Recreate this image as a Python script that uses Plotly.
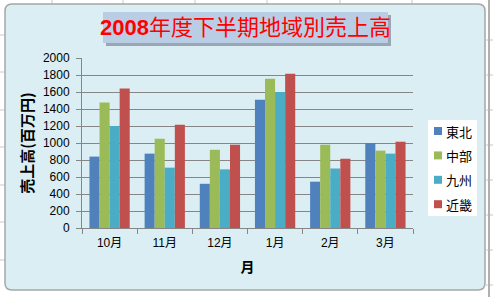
import plotly.graph_objects as go

months = ["10月", "11月", "12月", "1月", "2月", "3月"]
regions = ["東北", "中部", "九州", "近畿"]
tohoku = [840, 875, 520, 1510, 545, 1000]
chubu = [1475, 1050, 920, 1755, 980, 910]
kyushu = [1200, 710, 690, 1600, 700, 875]
kinki = [1640, 1215, 980, 1815, 815, 1015]
series = [tohoku, chubu, kyushu, kinki]
colors = ["#4F81BD", "#9BBB59", "#4BACC6", "#C0504D"]
y_ticks = list(range(0, 2001, 200))

W, H = 493, 297
L, R, T, B = 82, 413, 58, 228  # plot area pixel box

def px(x):
    return (x - L) / (R - L)

def py(y):
    return (B - y) / (B - T)

fig = go.Figure()
for name, vals, c in zip(regions, series, colors):
    fig.add_trace(go.Bar(x=months, y=vals, name=name, marker=dict(color=c, line=dict(width=0)),
                         showlegend=False))

shapes = []
# spreadsheet grid behind the chart
for x in [52, 123, 195, 267, 340, 412]:
    shapes.append(dict(type="line", xref="paper", yref="paper", x0=px(x), x1=px(x), y0=py(0), y1=py(5),
                       line=dict(color="#C8C8C8", width=1), layer="below"))
for y in [35, 72, 110, 147, 185, 222, 260]:
    shapes.append(dict(type="line", xref="paper", yref="paper", x0=px(0), x1=px(5), y0=py(y), y1=py(y),
                       line=dict(color="#C8C8C8", width=1), layer="below"))
for y in [40, 75, 110, 145, 180, 215, 250, 285]:
    shapes.append(dict(type="line", xref="paper", yref="paper", x0=px(486), x1=px(493), y0=py(y), y1=py(y),
                       line=dict(color="#C8C8C8", width=1), layer="below"))
shapes.append(dict(type="line", xref="paper", yref="paper", x0=px(489), x1=px(489), y0=py(0), y1=py(297),
                   line=dict(color="#B0B0B0", width=2), layer="below"))
# chart area rounded rect
x0, y0, x1, y1, r = 5, 4, 485, 290, 7
path = (f"M {px(x0+r)},{py(y0)} L {px(x1-r)},{py(y0)} Q {px(x1)},{py(y0)} {px(x1)},{py(y0+r)} "
        f"L {px(x1)},{py(y1-r)} Q {px(x1)},{py(y1)} {px(x1-r)},{py(y1)} "
        f"L {px(x0+r)},{py(y1)} Q {px(x0)},{py(y1)} {px(x0)},{py(y1-r)} "
        f"L {px(x0)},{py(y0+r)} Q {px(x0)},{py(y0)} {px(x0+r)},{py(y0)} Z")
shapes.append(dict(type="path", xref="paper", yref="paper", path=path, fillcolor="#DAEEF3",
                   line=dict(color="#A6A6A6", width=1.5), layer="below"))
# title shadow and box
shapes.append(dict(type="rect", xref="paper", yref="paper", x0=px(106), x1=px(391), y0=py(15), y1=py(46),
                   fillcolor="#9AA6B4", line=dict(width=0), layer="below"))
shapes.append(dict(type="rect", xref="paper", yref="paper", x0=px(103), x1=px(388), y0=py(12), y1=py(43),
                   fillcolor="#B9CDE5", line=dict(width=0), layer="below"))
# legend box
shapes.append(dict(type="rect", xref="paper", yref="paper", x0=px(428), x1=px(477), y0=py(120), y1=py(216),
                   fillcolor="#FFFFFF", line=dict(width=0), layer="below"))

annotations = [
    dict(text="<b>2008</b>年度下半期地域別売上高", xref="paper", yref="paper", x=px(245.5), y=py(28),
         showarrow=False, xanchor="center", yanchor="middle",
         font=dict(family="Liberation Sans, Noto Sans CJK JP", size=22, color="#FF0000")),
]

# legend entries (drawn from regions / colors)
leg_top, leg_step = 131, 24.4
for i, (name, c) in enumerate(zip(regions, colors)):
    yc = leg_top + i * leg_step
    shapes.append(dict(type="rect", xref="paper", yref="paper", x0=px(434), x1=px(442),
                       y0=py(yc - 4), y1=py(yc + 4), fillcolor=c, line=dict(width=0)))
    annotations.append(dict(text=name, xref="paper", yref="paper", x=px(444), y=py(yc),
                            showarrow=False, xanchor="left", yanchor="middle",
                            font=dict(family="Noto Sans CJK JP", size=13, color="#000000")))

fig.update_layout(
    width=W, height=H,
    margin=dict(l=L, r=W - R, t=T, b=H - B, pad=0, autoexpand=False),
    paper_bgcolor="#FFFFFF",
    plot_bgcolor="#FFFF00",
    barmode="group",
    bargap=0.27,
    bargroupgap=0,
    shapes=shapes,
    annotations=annotations,
    showlegend=False,
    font=dict(family="Liberation Sans, Noto Sans CJK JP", size=12, color="#000000"),
    xaxis=dict(
        showline=True, linecolor="#868686", linewidth=1,
        ticks="outside", ticklen=5, tickcolor="#868686", tickson="boundaries",
        tickfont=dict(size=12, color="#000000"), ticklabelstandoff=4,
        title=dict(text="<b>月</b>", font=dict(size=14, family="Noto Sans CJK JP"), standoff=12),
    ),
    yaxis=dict(
        range=[0, 2000], tickvals=y_ticks, ticktext=[str(v) for v in y_ticks],
        showline=True, linecolor="#868686", linewidth=1,
        ticks="outside", ticklen=5, tickcolor="#868686",
        showgrid=True, gridcolor="#868686", gridwidth=1,
        tickfont=dict(size=12, color="#000000"), ticklabelstandoff=4,
        title=dict(text="<b>売上高(百万円)</b>", font=dict(size=15, family="Noto Sans CJK JP"), standoff=5),
        zeroline=False,
    ),
)

fig.write_html("out.html")
